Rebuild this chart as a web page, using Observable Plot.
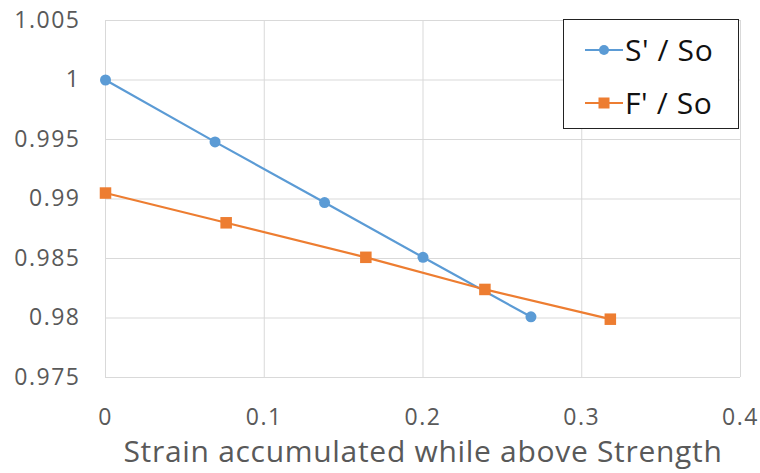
<!DOCTYPE html>
<html>
<head>
<meta charset="utf-8">
<script src="https://cdn.jsdelivr.net/npm/d3@7"></script>
<script src="https://cdn.jsdelivr.net/npm/@observablehq/plot@0.6"></script>
<style>
  html, body { margin: 0; padding: 0; background: #fff; }
  #wrap { position: relative; width: 760px; height: 473px; font-family: "Open Sans", Lato, sans-serif; }
  #wrap svg [aria-label^="x-axis"] text, #wrap svg [aria-label^="y-axis"] text { letter-spacing: 1.5px; }
  #legend { position: absolute; left: 563px; top: 19px; width: 176px; height: 110px; border: 1.3px solid #222; background: #fff; box-sizing: border-box; }
  .item { position: absolute; left: 21px; display: flex; align-items: center; font-size: 30px; letter-spacing: 0.6px; color: #111; line-height: 34px; }
  .item svg { margin-right: 2px; }
</style>
</head>
<body>
<div id="wrap"></div>
<script>
const strainS = [0, 0.069, 0.138, 0.2, 0.268];
const ratioS = [1.0, 0.9948, 0.9897, 0.9851, 0.9801];
const strainF = [0, 0.076, 0.164, 0.239, 0.318];
const ratioF = [0.9905, 0.988, 0.9851, 0.9824, 0.9799];
const seriesNames = ["S' / So", "F' / So"];
const colors = ["#5B9BD5", "#ED7D31"];
const xTicks = [0, 0.1, 0.2, 0.3, 0.4];
const yTicks = [0.975, 0.98, 0.985, 0.99, 0.995, 1.0, 1.005];
const xLabel = "Strain accumulated while above Strength";

const dataS = strainS.map((x, i) => ({x, y: ratioS[i]}));
const dataF = strainF.map((x, i) => ({x, y: ratioF[i]}));

const chart = Plot.plot({
  width: 760,
  height: 473,
  marginLeft: 105,
  marginRight: 20,
  marginTop: 20,
  marginBottom: 96,
  style: { fontFamily: "'Open Sans', Lato, sans-serif", background: "#fff" },
  x: { domain: [0, 0.4] },
  y: { domain: [0.975, 1.005] },
  marks: [
    Plot.gridX(xTicks, { stroke: "#d9d9d9", strokeOpacity: 1, strokeWidth: 1 }),
    Plot.gridY(yTicks, { stroke: "#d9d9d9", strokeOpacity: 1, strokeWidth: 1 }),
    Plot.axisX(xTicks, { tickSize: 0, tickPadding: 31, fontSize: 23, fill: "#595959", tickFormat: d => String(+d.toFixed(3)), label: null }),
    Plot.axisY(yTicks, { tickSize: 0, tickPadding: 25, fontSize: 23, fill: "#595959", tickFormat: d => String(+d.toFixed(3)), label: null }),
    Plot.line(dataS, { x: "x", y: "y", stroke: colors[0], strokeWidth: 2.2 }),
    Plot.line(dataF, { x: "x", y: "y", stroke: colors[1], strokeWidth: 2.2 }),
    Plot.dot(dataS, { x: "x", y: "y", fill: colors[0], r: 5.5, symbol: "circle" }),
    Plot.dot(dataF, { x: "x", y: "y", fill: colors[1], r: 6.5, symbol: "square" }),
    Plot.text([xLabel], { frameAnchor: "bottom", dy: 84, fontSize: 30, fill: "#595959", text: d => d, style: "letter-spacing: 0.7px" })
  ]
});

const wrap = document.getElementById("wrap");
wrap.appendChild(chart);
chart.querySelectorAll("text").forEach(t => {
  if (t.textContent === xLabel) t.style.letterSpacing = "0.7px";
});

const legend = document.createElement("div");
legend.id = "legend";
seriesNames.forEach((name, i) => {
  const item = document.createElement("div");
  item.className = "item";
  item.style.top = (i === 0 ? 13 : 66) + "px";
  const marker = i === 0
    ? `<circle cx="19" cy="17" r="5" fill="${colors[i]}"/>`
    : `<rect x="13.5" y="11.5" width="11" height="11" fill="${colors[i]}"/>`;
  item.innerHTML = `<svg width="38" height="34"><line x1="0" x2="38" y1="17" y2="17" stroke="${colors[i]}" stroke-width="2"/>${marker}</svg><span>${name}</span>`;
  legend.appendChild(item);
});
wrap.appendChild(legend);
</script>
</body>
</html>
